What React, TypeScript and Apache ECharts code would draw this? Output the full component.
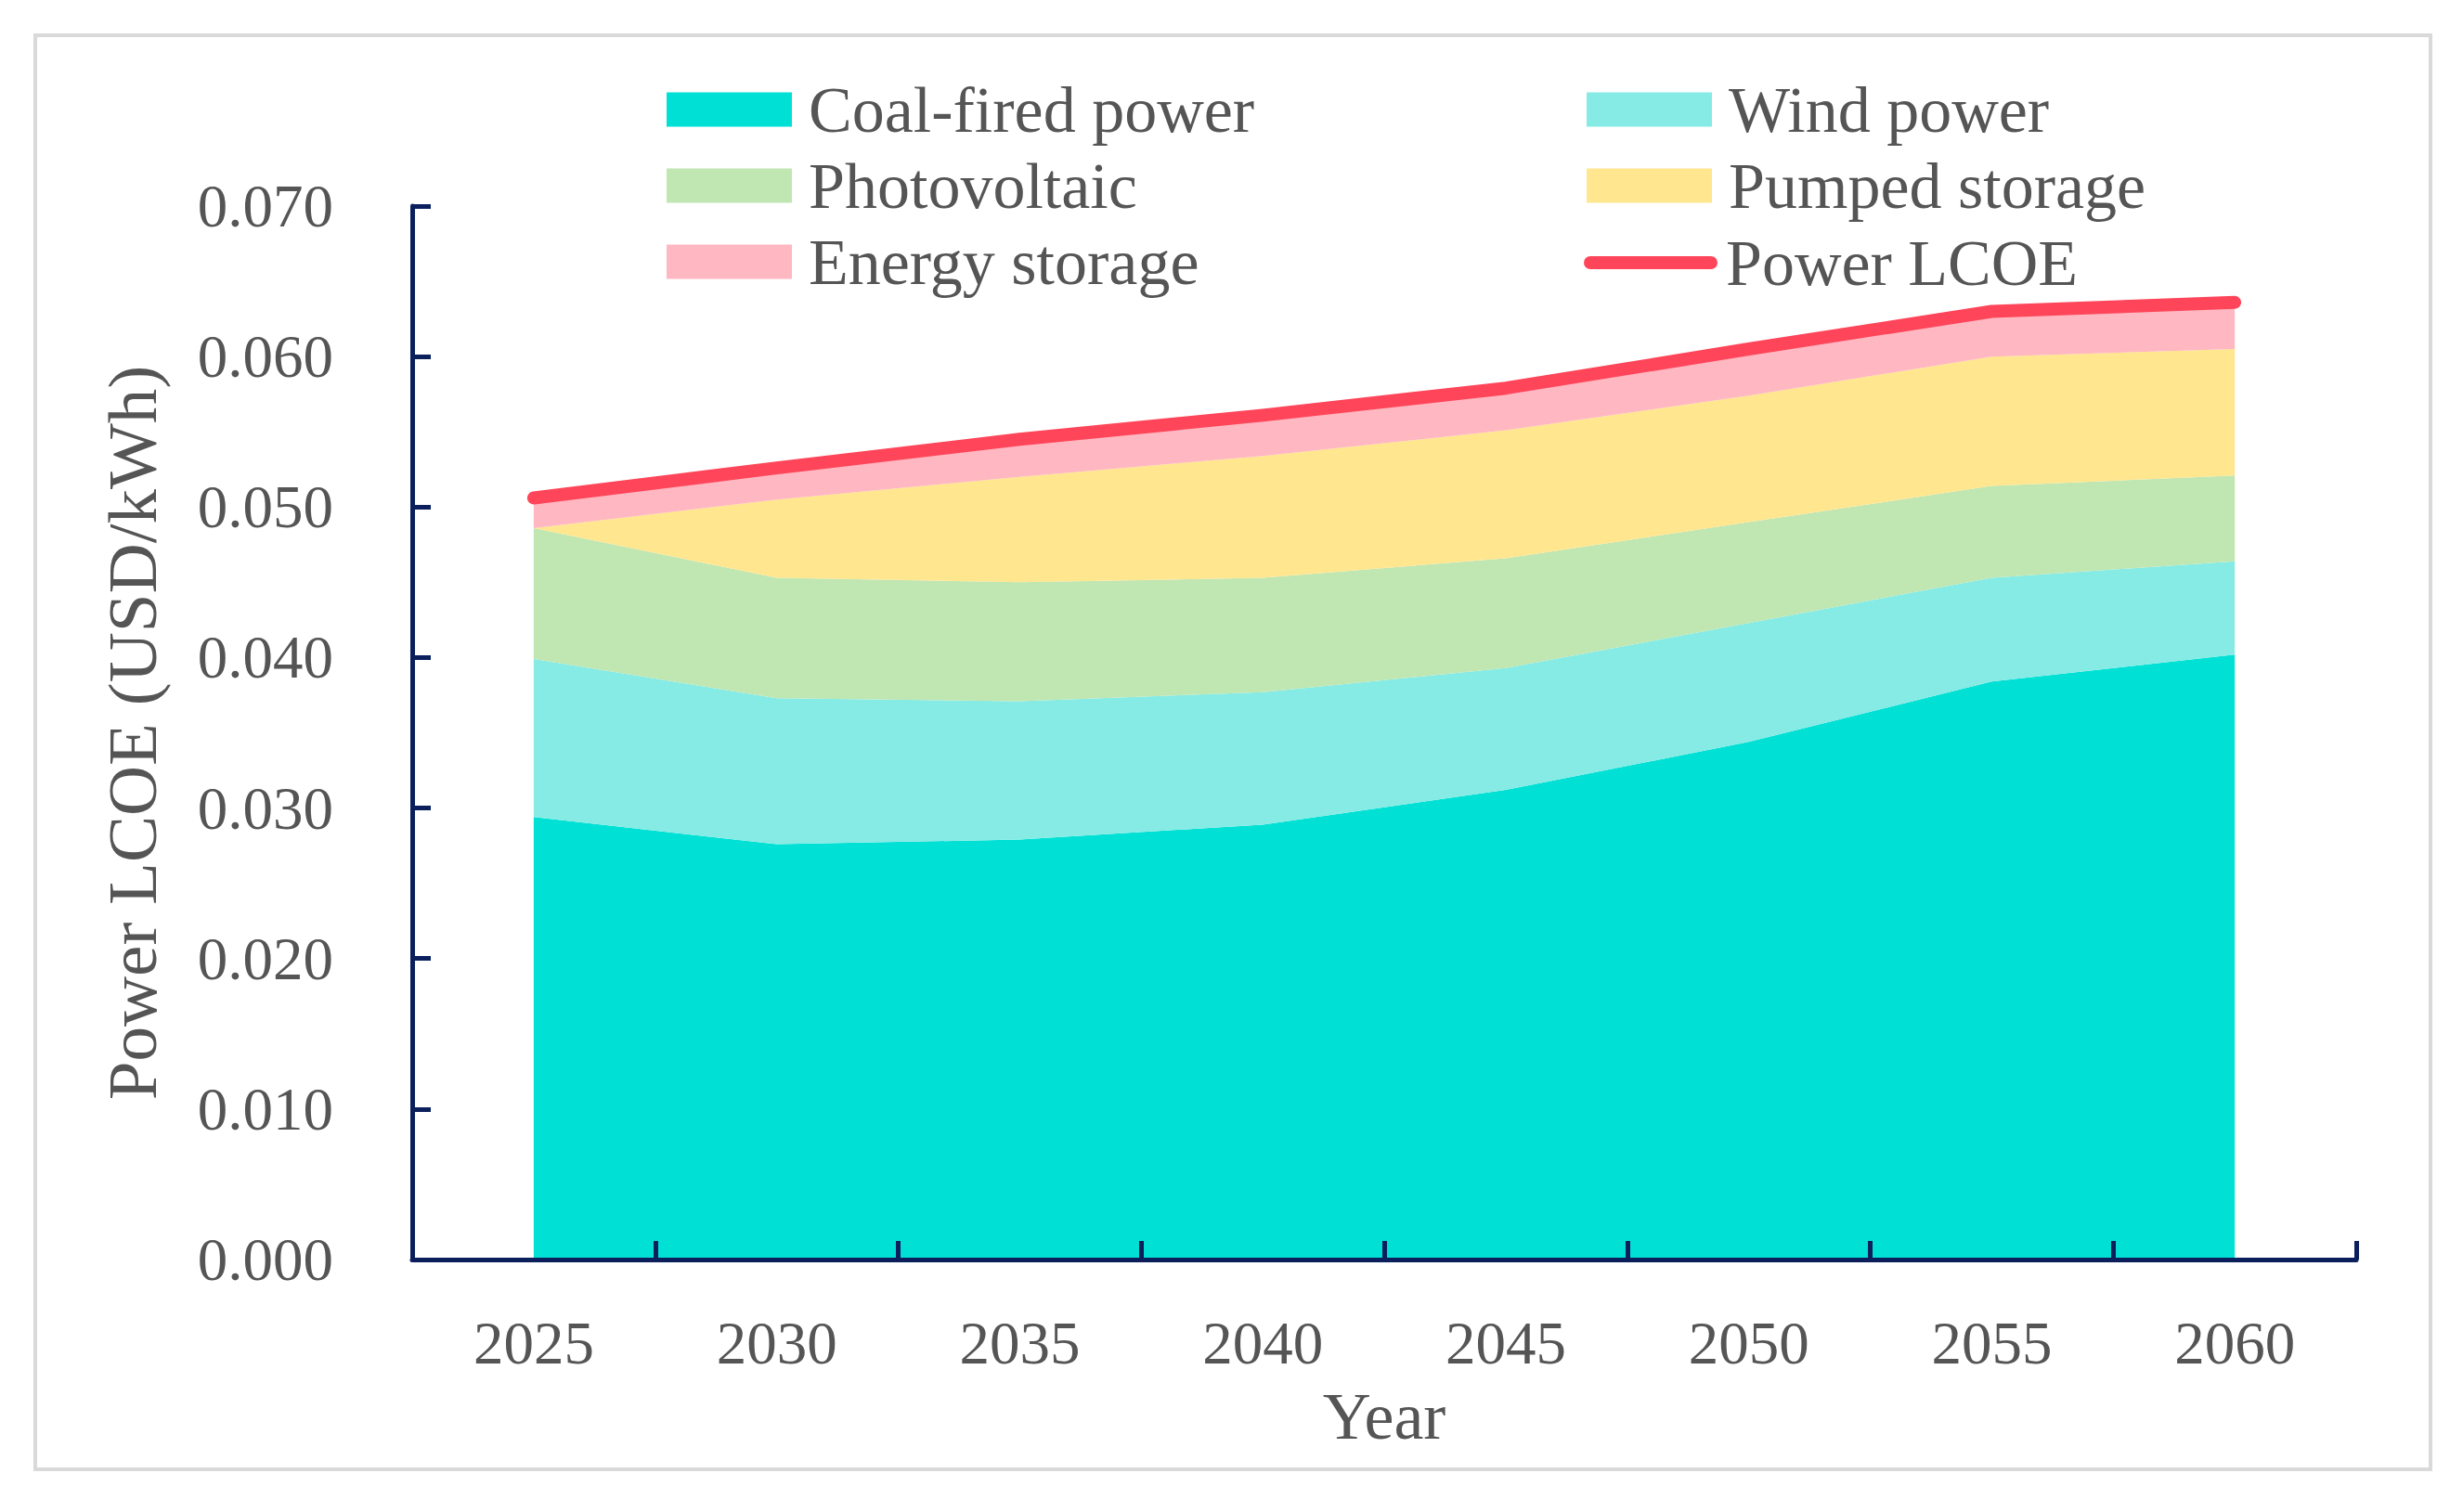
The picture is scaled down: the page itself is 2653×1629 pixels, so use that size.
import React, { useEffect, useRef } from "react";
import * as echarts from "echarts";

const years = ["2025", "2030", "2035", "2040", "2045", "2050", "2055", "2060"];
const coalFired = [0.0294, 0.0276, 0.0279, 0.0289, 0.0312, 0.0344, 0.0384, 0.0402];
const windPower = [0.0105, 0.0097, 0.0092, 0.0088, 0.0081, 0.0079, 0.0069, 0.0062];
const photovoltaic = [0.0087, 0.008, 0.0079, 0.0076, 0.0073, 0.0067, 0.0061, 0.0057];
const pumpedStorage = [0.0, 0.0052, 0.007, 0.0081, 0.0085, 0.0084, 0.0086, 0.0084];
const energyStorage = [0.002, 0.0021, 0.0025, 0.0027, 0.0028, 0.0031, 0.003, 0.0031];
const powerLCOE = [0.0506, 0.0526, 0.0545, 0.0561, 0.0579, 0.0605, 0.063, 0.0636];

const FONT = "'Liberation Serif', 'DejaVu Serif', serif";
const TEXT = "#555555";
const AXIS = "#0A1F5C";

const areaNames = ["Coal-fired power", "Wind power", "Photovoltaic", "Pumped storage", "Energy storage"];
const areaData = [coalFired, windPower, photovoltaic, pumpedStorage, energyStorage];
const areaColors = ["#00E0D5", "#85EBE4", "#C0E6B2", "#FFE68F", "#FFB7C1"];
const lineColor = "#FF4559";

export default function App() {
  const ref = useRef<HTMLDivElement>(null);
  useEffect(() => {
    if (!ref.current) return;
    const chart = echarts.init(ref.current, undefined, { renderer: "svg" });
    const legendText = { fontSize: 70, fontFamily: FONT, color: TEXT, padding: [0, 0, 0, 13] };
    const option: any = {
      animation: false,
      backgroundColor: "#ffffff",
      graphic: [
        {
          type: "rect",
          shape: { x: 38, y: 38, width: 2580, height: 1545 },
          style: { fill: "none", stroke: "#D9D9D9", lineWidth: 4 },
          silent: true,
        },
      ],
      legend: [
        {
          orient: "vertical",
          left: 718,
          top: 83,
          padding: 0,
          icon: "rect",
          itemWidth: 135,
          itemHeight: 37,
          itemGap: 12,
          textStyle: legendText,
          data: ["Coal-fired power", "Photovoltaic", "Energy storage"],
        },
        {
          orient: "vertical",
          left: 1709,
          top: 83,
          padding: 0,
          icon: "rect",
          itemWidth: 135,
          itemHeight: 37,
          itemGap: 12,
          textStyle: legendText,
          data: ["Wind power", "Pumped storage"],
        },
        {
          orient: "vertical",
          left: 1706,
          top: 248,
          padding: 0,
          itemWidth: 144,
          itemHeight: 14,
          textStyle: { ...legendText, padding: [0, 0, 0, 4] },
          data: [
            {
              name: "Power LCOE",
              icon: "path://M7,0 L137,0 A7,7 0 0 1 137,14 L7,14 A7,7 0 0 1 7,0 Z",
              itemStyle: { color: lineColor, borderWidth: 0 },
            },
          ],
        },
      ],
      grid: { left: 444, right: 115, top: 222, bottom: 272, containLabel: false },
      xAxis: {
        type: "category",
        data: years,
        boundaryGap: true,
        name: "Year",
        nameLocation: "middle",
        nameGap: 133,
        nameTextStyle: { fontSize: 72, fontFamily: FONT, color: TEXT },
        axisLine: { show: true, lineStyle: { color: AXIS, width: 5 } },
        axisTick: { show: true, inside: true, length: 20, lineStyle: { color: AXIS, width: 5 } },
        axisLabel: { fontSize: 65, fontFamily: FONT, color: TEXT, margin: 57 },
        splitLine: { show: false },
        z: 10,
      },
      yAxis: {
        type: "value",
        min: 0,
        max: 0.07,
        interval: 0.01,
        name: "Power LCOE (USD/kWh)",
        nameLocation: "middle",
        nameGap: 264,
        nameTextStyle: { fontSize: 75, fontFamily: FONT, color: TEXT },
        axisLine: { show: true, lineStyle: { color: AXIS, width: 5 } },
        axisTick: { show: true, inside: true, length: 20, lineStyle: { color: AXIS, width: 5 } },
        axisLabel: {
          fontSize: 65,
          fontFamily: FONT,
          color: TEXT,
          margin: 85,
          formatter: (v: number) => v.toFixed(3),
        },
        splitLine: { show: false },
        z: 10,
      },
      series: [
        ...areaNames.map((name, i) => ({
          name,
          type: "line",
          stack: "total",
          data: areaData[i],
          symbol: "none",
          showSymbol: false,
          lineStyle: { width: 0, opacity: 0 },
          areaStyle: { color: areaColors[i], opacity: 1 },
          itemStyle: { color: areaColors[i] },
          z: 2,
        })),
        {
          name: "Power LCOE",
          type: "line",
          data: powerLCOE,
          symbol: "none",
          showSymbol: false,
          lineStyle: { color: lineColor, width: 14, cap: "round", join: "round" },
          itemStyle: { color: lineColor },
          z: 5,
        },
      ],
    };
    chart.setOption(option);
    return () => chart.dispose();
  }, []);
  return (
    <div
      ref={ref}
      style={{ position: "fixed", left: 0, top: 0, width: 2653, height: 1629, background: "#fff" }}
    />
  );
}
